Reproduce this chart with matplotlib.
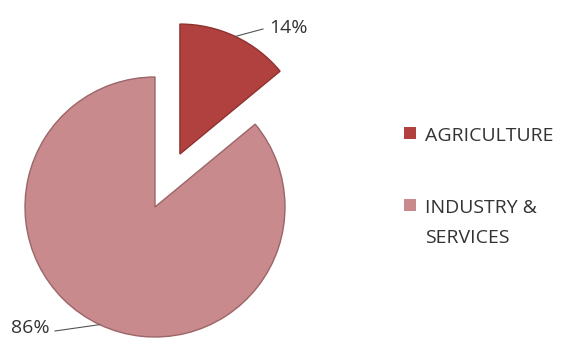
import numpy as np
import matplotlib
matplotlib.use('Agg')
import matplotlib.pyplot as plt

labels = ['AGRICULTURE', 'INDUSTRY &\nSERVICES']
shares = [14, 86]
colors = ['#B0413E', '#C88A8C']
edges = ['#8E3230', '#9C6567']
explode = [0.45, 0]

W, H = 569, 344
R = 130.0  # pie radius in pixels, 1 data unit = R px

plt.rcParams['font.family'] = ['Open Sans', 'DejaVu Sans']
FS = 14
TXT = '#333333'

fig = plt.figure(figsize=(W / 100, H / 100), dpi=100)
ax = fig.add_axes([0, 0, 1, 1])
ax.axis('off')


def px(x, y):
    # pixel position (y from top) -> data units
    return x / R, (H - y) / R


cx, cy = px(155, 207)
wedges, _ = ax.pie(shares, colors=colors, explode=explode, startangle=90,
                   counterclock=False, center=(cx, cy), radius=1,
                   wedgeprops=dict(linewidth=1.0))
for w, e in zip(wedges, edges):
    w.set_edgecolor(e)
ax.set_xlim(0, W / R)
ax.set_ylim(0, H / R)
ax.set_aspect('equal')

# percentage labels with leader lines
txt_pos = [px(288, 33), px(30, 333)]
elbow = [px(263, 29), px(55, 331)]
has = ['center', 'center']
for i, (w, v) in enumerate(zip(wedges, shares)):
    mid = np.deg2rad((w.theta1 + w.theta2) / 2)
    ax_, ay_ = w.center[0] + np.cos(mid), w.center[1] + np.sin(mid)
    ax.plot([ax_, elbow[i][0]], [ay_, elbow[i][1]], color='#555555', lw=0.8)
    ax.text(txt_pos[i][0], txt_pos[i][1], f'{v}%', ha=has[i], va='baseline',
            fontsize=FS, color=TXT)

# legend
leg_base = [141, 213]
for i in range(2):
    sx, sy = px(410, leg_base[i] - 8)
    ax.scatter([sx], [sy], marker='s', s=80, color=colors[i], linewidths=0)
    for j, line in enumerate(labels[i].split('\n')):
        tx, ty = px(425, leg_base[i] + 30 * j)
        ax.text(tx, ty, line, ha='left', va='baseline', fontsize=FS, color=TXT)

fig.savefig('out.png', dpi=100)
